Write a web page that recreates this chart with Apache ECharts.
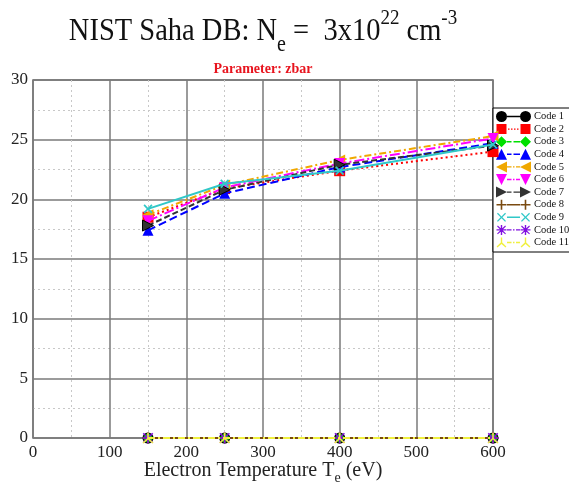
<!DOCTYPE html>
<html>
<head>
<meta charset="utf-8">
<script src="https://cdn.jsdelivr.net/npm/echarts@6/dist/echarts.min.js"></script>
<style>
  html, body { margin: 0; padding: 0; background: #fff; }
  #chart { width: 569px; height: 485px; }
</style>
</head>
<body>
<div id="chart"></div>
<script>
// Electron temperatures (eV)
const temperatures = [150, 250, 400, 600];

// Mean ionization (zbar) reported by each code
const code1  = [0, 0, 0, 0];
const code2  = [18.5, 20.9, 22.4, 24.0];
const code3  = [0, 0, 0, 0];
const code4  = [17.4, 20.5, 22.7, 24.7];
const code5  = [18.7, 21.2, 23.3, 25.3];
const code6  = [18.2, 21.0, 23.0, 25.1];
const code7  = [17.8, 20.8, 22.9, 24.5];
const code8  = [0, 0, 0, 0];
const code9  = [19.2, 21.3, 22.4, 24.6];
const code10 = [0, 0, 0, 0];
const code11 = [0, 0, 0, 0];

const codeNames = ['Code 1', 'Code 2', 'Code 3', 'Code 4', 'Code 5', 'Code 6',
                   'Code 7', 'Code 8', 'Code 9', 'Code 10', 'Code 11'];
const codeValues = [code1, code2, code3, code4, code5, code6,
                    code7, code8, code9, code10, code11];

const xTicks = [0, 100, 200, 300, 400, 500, 600];
const yTicks = [0, 5, 10, 15, 20, 25, 30];

const SERIF = '"Liberation Serif", "DejaVu Serif", serif';

// ---- marker outlines (10x10 box) ----
const PLUS = 'path://M4.2,0H5.8V4.2H10V5.8H5.8V10H4.2V5.8H0V4.2H4.2Z';
const ASTER = 'path://M4.3,0H5.7V4.3H10V5.7H5.7V10H4.3V5.7H0V4.3H4.3Z' +
  'M1.2,0.2L5,4L8.8,0.2L9.8,1.2L6,5L9.8,8.8L8.8,9.8L5,6L1.2,9.8L0.2,8.8L4,5L0.2,1.2Z';
const TRI3 = 'path://M4.3,0H5.7V5.2L9.9,9L8.9,10L5,6.4L1.1,10L0.1,9L4.3,5.2Z';

// ---- legend icons: a marker at each end joined by the line style (35x11 box) ----
function glyph(kind, x) {
  const W = 11, H = 11, c = x + W / 2;
  switch (kind) {
    case 'circle':
      return `M${x},5.5a5.5,5.5 0 1,0 11,0a5.5,5.5 0 1,0 -11,0Z`;
    case 'rect':
      return `M${x + 0.5},0.5H${x + 10.5}V10.5H${x + 0.5}Z`;
    case 'diamond':
      return `M${c},0L${x + W},5.5L${c},${H}L${x},5.5Z`;
    case 'up':
      return `M${c},0L${x + W},${H}L${x},${H}Z`;
    case 'down':
      return `M${x},0L${x + W},0L${c},${H}Z`;
    case 'left':
      return `M${x},5.5L${x + W},0L${x + W},${H}Z`;
    case 'right':
      return `M${x},0L${x + W},5.5L${x},${H}Z`;
    case 'plus':
      return `M${c - 0.8},0.5H${c + 0.8}V4.7H${x + 10.5}V6.3H${c + 0.8}V10.5H${c - 0.8}V6.3H${x + 0.5}V4.7H${c - 0.8}Z`;
    case 'cross':
      return `M${x + 1},1.9L${x + 1.9},1L${c},4.6L${x + 9.1},1L${x + 10},1.9L${c + 0.9},5.5L${x + 10},9.1L${x + 9.1},10L${c},6.4L${x + 1.9},10L${x + 1},9.1L${c - 0.9},5.5Z`;
    case 'aster':
      return `M${c - 0.7},0.5H${c + 0.7}V4.8H${x + 10.5}V6.2H${c + 0.7}V10.5H${c - 0.7}V6.2H${x + 0.5}V4.8H${c - 0.7}Z` +
        `M${x + 1.8},1.2L${c},4.5L${x + 9.2},1.2L${x + 9.9},2L${c + 0.8},5.5L${x + 9.9},9L${x + 9.2},9.8L${c},6.5L${x + 1.8},9.8L${x + 1.1},9L${c - 0.8},5.5L${x + 1.1},2Z`;
    case 'tri3':
      return `M${c - 0.7},0.5H${c + 0.7}V5.6L${x + 10.4},9.6L${x + 9.5},10.5L${c},7L${x + 1.5},10.5L${x + 0.6},9.6L${c - 0.7},5.6Z`;
  }
  return '';
}
function joint(style) {
  const y0 = 4.8, y1 = 6.2;
  const seg = (a, b) => `M${a},${y0}H${b}V${y1}H${a}Z`;
  if (style === 'solid') return seg(11, 24);
  if (style === 'dotted') return seg(12, 13.5) + seg(15, 16.5) + seg(18, 19.5) + seg(21, 22.5);
  if (style === 'dashed') return seg(11, 15.5) + seg(17.5, 24);
  return seg(11, 15.5) + seg(17, 18.5) + seg(20, 24); // dash-dot
}
function legendIcon(kind, style) {
  // invisible corner points pin the outline to the full 35x11 box
  return 'path://M0,0H0.01V0.01Z M35,11H34.99V10.99Z ' + glyph(kind, 0) + joint(style) + glyph(kind, 24);
}

const DASHDOT = [7, 3, 2, 3];
const looks = [
  { color: '#000000', symbol: 'circle',   rot: 0,   kind: 'circle',  line: 'solid',   dash: 'solid' },
  { color: '#ff0000', symbol: 'rect',     rot: 0,   kind: 'rect',    line: 'dotted',  dash: [2, 3] },
  { color: '#00e000', symbol: 'diamond',  rot: 0,   kind: 'diamond', line: 'dashed',  dash: [6, 3] },
  { color: '#0000ff', symbol: 'triangle', rot: 0,   kind: 'up',      line: 'dashed',  dash: [8, 4] },
  { color: '#f0a800', symbol: 'triangle', rot: 90,  kind: 'left',    line: 'dashdot', dash: DASHDOT },
  { color: '#ff00ff', symbol: 'triangle', rot: 180, kind: 'down',    line: 'dashdot', dash: [10, 3, 2, 3] },
  { color: '#333333', symbol: 'triangle', rot: -90, kind: 'right',   line: 'dashed',  dash: [6, 3] },
  { color: '#7a4a10', symbol: PLUS,       rot: 0,   kind: 'plus',    line: 'solid',   dash: 'solid' },
  { color: '#30c8c8', symbol: PLUS,       rot: 45,  kind: 'cross',   line: 'solid',   dash: 'solid' },
  { color: '#8010e0', symbol: ASTER,      rot: 0,   kind: 'aster',   line: 'dashdot', dash: DASHDOT },
  { color: '#f0f040', symbol: TRI3,       rot: 0,   kind: 'tri3',    line: 'dashdot', dash: DASHDOT }
];

const series = codeNames.map((name, i) => ({
  name,
  type: 'line',
  data: temperatures.map((t, k) => [t, codeValues[i][k]]),
  symbol: looks[i].symbol,
  symbolRotate: looks[i].rot,
  symbolSize: 11,
  showAllSymbol: true,
  clip: false,
  z: 3 + i,
  itemStyle: {
    color: looks[i].color,
    borderColor: i === 6 ? '#000' : looks[i].color,
    borderWidth: i === 6 ? 1 : 0
  },
  lineStyle: { color: looks[i].color, width: 2, type: looks[i].dash },
  emphasis: { disabled: true }
}));

const chart = echarts.init(document.getElementById('chart'), null, { renderer: 'canvas' });
chart.setOption({
  animation: false,
  backgroundColor: '#ffffff',
  grid: {
    left: 33, right: 76, top: 80, bottom: 47,
    containLabel: false, outerBoundsMode: 'none',
    show: true, borderColor: '#6a6a6a', borderWidth: 1.5, backgroundColor: 'transparent'
  },
  graphic: [
    {
      type: 'text', x: 263, y: 36, z: 10, scaleY: 1.12, originY: 36,
      style: {
        align: 'center', verticalAlign: 'middle',
        text: '{m|NIST Saha DB: N}{s|e}{m| =  3x10}{p|22}{m| cm}{p|-3}',
        rich: {
          m: { fontFamily: SERIF, fontSize: 28.5, lineHeight: 30, fill: '#111' },
          s: { fontFamily: SERIF, fontSize: 20, lineHeight: 22, verticalAlign: 'bottom', fill: '#111', padding: [0, 0, -7, 0] },
          p: { fontFamily: SERIF, fontSize: 19, lineHeight: 22, verticalAlign: 'top', fill: '#111', padding: [-6, 0, 0, 0] }
        }
      }
    },
    {
      type: 'text', x: 263, y: 69, z: 10,
      style: {
        align: 'center', verticalAlign: 'middle',
        text: 'Parameter: zbar',
        font: 'bold 14px ' + SERIF,
        fill: '#e8141e'
      }
    }
  ],
  legend: {
    orient: 'vertical',
    left: 493, top: 108,
    padding: [3, 40, 4, 3],
    itemWidth: 35, itemHeight: 11, itemGap: 1.6,
    backgroundColor: '#ffffff',
    borderColor: '#000000', borderWidth: 1,
    selectedMode: false,
    textStyle: { fontFamily: SERIF, fontSize: 10.5, color: '#111', padding: [0, 0, 0, -2] },
    data: codeNames.map((name, i) => ({
      name,
      icon: legendIcon(looks[i].kind, looks[i].line),
      itemStyle: { color: looks[i].color, borderWidth: 0 }
    }))
  },
  xAxis: {
    type: 'value', min: xTicks[0], max: xTicks[xTicks.length - 1], interval: xTicks[1] - xTicks[0],
    name: '{n|Electron Temperature T}{s|e}{n| (eV)}',
    nameLocation: 'middle', nameGap: 22, nameMoveOverlap: false,
    nameTextStyle: {
      verticalAlign: 'top',
      rich: {
        n: { fontFamily: SERIF, fontSize: 20, lineHeight: 22, color: '#222' },
        s: { fontFamily: SERIF, fontSize: 14, lineHeight: 22, verticalAlign: 'bottom', color: '#222', padding: [0, 0, -3, 0] }
      }
    },
    axisLine: { show: false },
    axisTick: { show: false },
    axisLabel: { fontFamily: SERIF, fontSize: 17, color: '#222', margin: 6 },
    splitLine: { show: true, lineStyle: { color: '#7a7a7a', width: 1.5 } },
    minorTick: { show: false, splitNumber: 2 },
    minorSplitLine: { show: true, lineStyle: { color: '#c8c8c8', width: 1, type: [2, 3] } }
  },
  yAxis: {
    type: 'value', min: yTicks[0], max: yTicks[yTicks.length - 1], interval: yTicks[1] - yTicks[0],
    axisLine: { show: false },
    axisTick: { show: false },
    axisLabel: { fontFamily: SERIF, fontSize: 17, color: '#222', margin: 5 },
    splitLine: { show: true, lineStyle: { color: '#7a7a7a', width: 1.5 } },
    minorTick: { show: false, splitNumber: 2 },
    minorSplitLine: { show: true, lineStyle: { color: '#c8c8c8', width: 1, type: [2, 3] } }
  },
  series
});
</script>
</body>
</html>
